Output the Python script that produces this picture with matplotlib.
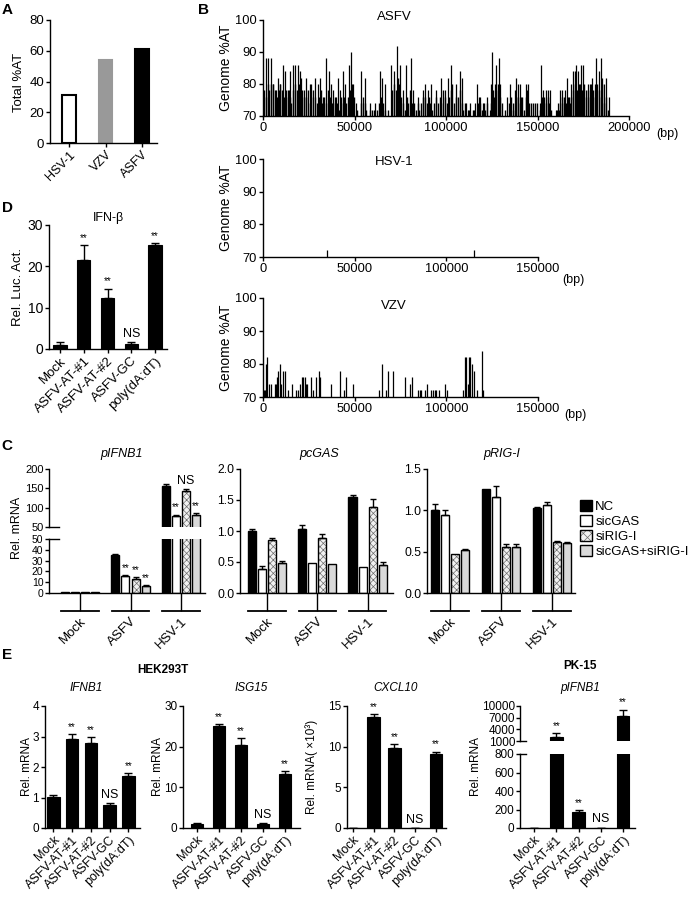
import matplotlib
matplotlib.use('Agg')
import matplotlib.pyplot as plt
import matplotlib.transforms as mtransforms
from matplotlib.patches import Patch
import numpy as np

plt.rcParams['font.family'] = ['Liberation Sans', 'DejaVu Sans']
plt.rcParams['axes.linewidth'] = 1.0
plt.rcParams['hatch.linewidth'] = 0.5

# ---------------- data ----------------
# A
a_viruses = ['HSV-1', 'VZV', 'ASFV']
a_total_at = [31.4, 54.0, 61.4]

# B  (window position in kb, %AT); windows under 70 %AT are not drawn
asfv_peaks = [
    (1.5, 88), (2.7, 88), (4.6, 88), (5.5, 80), (7.3, 78), (8.2, 82), (9.5, 80), (10.9, 86),
    (11.8, 84), (12.8, 78), (14.2, 78), (14.9, 84), (16.4, 86), (17.7, 86), (19.1, 86), (20.0, 84),
    (20.9, 82), (22.2, 78), (23.7, 82), (25.5, 80), (26.4, 80), (28.2, 82), (30.0, 80), (31.3, 82),
    (32.8, 76), (34.6, 88), (35.9, 84), (37.0, 80), (38.3, 78), (39.7, 76), (41.0, 82), (42.3, 78),
    (43.7, 84), (45.0, 80), (46.8, 86), (47.9, 90), (49.2, 80), (50.6, 74), (53.7, 84), (55.6, 82),
    (58.3, 74), (59.7, 72), (61.0, 74), (63.8, 84), (65.2, 82), (66.5, 80), (70.1, 86), (71.4, 84),
    (73.4, 92), (74.7, 86), (76.5, 78), (78.3, 86), (80.7, 88), (82.0, 78), (84.7, 76), (87.4, 78),
    (88.3, 80), (90.2, 78), (92.0, 80), (94.7, 78), (97.4, 82), (99.3, 78), (101.0, 82), (102.9, 86),
    (105.6, 80), (107.5, 84), (108.7, 82), (111.0, 74), (112.0, 72), (113.0, 74), (115.7, 74),
    (117.0, 80), (117.9, 76), (118.8, 76), (120.2, 74), (122.4, 76), (123.9, 72), (124.8, 80),
    (125.4, 90), (126.6, 80), (127.5, 86), (128.8, 88), (129.7, 80), (133.4, 76), (134.8, 80),
    (136.6, 74), (137.5, 78), (138.5, 82), (139.4, 80), (140.3, 80), (141.2, 76), (143.6, 80),
    (144.8, 80), (151.2, 74), (152.1, 86), (153.0, 78), (154.5, 78), (155.8, 78), (156.7, 78),
    (160.3, 72), (161.2, 74), (162.5, 78), (163.6, 78), (164.3, 76), (165.2, 78), (166.2, 82),
    (167.2, 76), (168.5, 80), (169.4, 84), (170.3, 84), (171.3, 86), (172.2, 84), (173.1, 80),
    (174.0, 86), (174.9, 86), (176.4, 78), (177.6, 80), (178.5, 80), (179.4, 80), (180.0, 82),
    (181.3, 80), (182.2, 88), (183.5, 84), (184.6, 88), (185.5, 82), (186.4, 80), (187.7, 82),
    (188.9, 76),
]
# low-level windows, one per kb starting at 0 kb (0 = below 70 %AT)
asfv_low = [
    78, 76, 80, 78, 80, 80, 78, 76, 78, 80,
    78, 76, 76, 78, 76, 74, 78, 80, 78, 80,
    76, 78, 76, 76, 78, 74, 76, 78, 76, 74,
    76, 78, 74, 76, 74, 78, 76, 74, 74, 76,
    74, 72, 76, 74, 76, 74, 76, 78, 80, 76,
    0, 72, 0, 74, 76, 74, 72, 0, 72, 0,
    72, 0, 72, 74, 76, 74, 72, 0, 72, 0,
    78, 80, 78, 82, 80, 76, 74, 72, 76, 74,
    78, 74, 74, 72, 74, 72, 74, 76, 76, 74,
    76, 74, 72, 74, 76, 74, 76, 74, 78, 76,
    74, 76, 78, 80, 74, 76, 76, 78, 74, 72,
    74, 0, 72, 0, 72, 72, 0, 74, 74, 72,
    74, 72, 74, 0, 74, 78, 76, 78, 80, 76,
    74, 0, 72, 0, 74, 76, 72, 74, 76, 76,
    74, 76, 72, 76, 78, 74, 74, 74, 74, 74,
    0, 72, 76, 76, 74, 76, 74, 72, 0, 0,
    72, 72, 74, 76, 74, 74, 76, 74, 76, 78,
    80, 78, 80, 76, 78, 80, 76, 78, 76, 76,
    78, 76, 80, 78, 76, 80, 74, 76, 72, 0,
]
hsv_peaks = [(35.1, 72), (114.9, 72)]
vzv_peaks = [
    (0.4, 72), (1.3, 72), (1.8, 80), (2.4, 82), (3.1, 74), (4.5, 74), (6.4, 74), (7.0, 74),
    (7.6, 76), (8.2, 78), (9.1, 80), (10.0, 74), (10.9, 78), (11.8, 78), (13.6, 72), (16.0, 74),
    (18.2, 72), (19.1, 72), (20.0, 74), (21.0, 76), (21.8, 76), (22.7, 76), (23.3, 74), (24.0, 74),
    (26.0, 76), (27.3, 72), (28.7, 76), (30.4, 78), (31.3, 76), (37.3, 74), (42.2, 78), (44.2, 72),
    (45.1, 76), (49.1, 74), (63.1, 72), (65.1, 80), (67.3, 72), (68.2, 78), (70.9, 78), (77.6, 76),
    (80.0, 74), (81.3, 76), (84.5, 72), (85.5, 72), (86.4, 72), (88.5, 72), (89.6, 74), (91.8, 72),
    (92.7, 72), (93.6, 72), (94.5, 72), (96.0, 72), (99.1, 74), (100.5, 72), (109.0, 72),
    (110.0, 82), (110.9, 82), (111.8, 74), (112.4, 82), (113.1, 82), (114.2, 80), (115.1, 78),
    (116.9, 72), (119.5, 84), (120.0, 72),
]

# D
samples = ['Mock', 'ASFV-AT-#1', 'ASFV-AT-#2', 'ASFV-GC', 'poly(dA:dT)']
d_luc = [1.05, 21.6, 12.3, 1.3, 25.2]
d_err = [0.55, 3.6, 2.3, 0.4, 0.4]
d_marks = ['', '**', '**', 'NS', '**']

# C  (rows: infection group, columns: siRNA)
c_groups = ['Mock', 'ASFV', 'HSV-1']
c_sirna = ['NC', 'sicGAS', 'siRIG-I', 'sicGAS+siRIG-I']
c_ifnb1 = [[0.8, 0.8, 0.8, 0.8], [35.5, 15.4, 13.0, 6.2], [157, 79, 142, 82]]
c_ifnb1_err = [[0, 0, 0, 0], [0.8, 1.5, 1.5, 1.5], [5, 3, 6, 3]]
c_ifnb1_marks = [['', '', '', ''], ['', '**', '**', '**'], ['', '**', 'NS', '**']]
c_cgas = [[1.0, 0.39, 0.86, 0.48], [1.04, 0.49, 0.88, 0.47], [1.55, 0.42, 1.39, 0.45]]
c_cgas_err = [[0.03, 0.05, 0.02, 0.03], [0.06, 0, 0.07, 0], [0.03, 0, 0.12, 0.05]]
c_rigi = [[1.0, 0.94, 0.47, 0.52], [1.26, 1.16, 0.56, 0.56], [1.03, 1.06, 0.62, 0.61]]
c_rigi_err = [[0.08, 0.07, 0, 0.01], [0, 0.14, 0.03, 0.03], [0.01, 0.04, 0.01, 0.01]]

# E
e_ifnb1 = [1.01, 2.91, 2.80, 0.76, 1.72]
e_ifnb1_err = [0.06, 0.16, 0.17, 0.05, 0.07]
e_isg15 = [1.06, 25.0, 20.3, 1.06, 13.4]
e_isg15_err = [0.1, 0.6, 1.9, 0.1, 0.6]
e_cxcl10 = [0.0, 13.6, 9.85, 0.05, 9.1]
e_cxcl10_err = [0, 0.4, 0.5, 0, 0.3]
e_pk15 = [2, 2030, 172, 5, 7500]
e_pk15_err = [0, 1000, 25, 0, 1600]
e_marks = ['', '**', '**', 'NS', '**']

# ---------------- layout helpers ----------------
W, H = 688, 899
fig = plt.figure(figsize=(W / 100, H / 100), dpi=100)
fig.patch.set_facecolor('white')


def px_ax(l, t, r, b, labelsize=9):
    ax = fig.add_axes([l / W, 1 - b / H, (r - l) / W, (b - t) / H])
    ax.spines['top'].set_visible(False)
    ax.spines['right'].set_visible(False)
    ax.tick_params(direction='out', length=3, width=1, pad=1.2, labelsize=labelsize)
    ax.patch.set_alpha(0)
    return ax


def ftext(x, y, s, **kw):
    kw.setdefault('ha', 'center')
    kw.setdefault('va', 'center')
    fig.text(x / W, 1 - y / H, s, **kw)


def rot_labels(ax, labels, size=8):
    ax.set_xticks(range(len(labels)))
    ax.set_xticklabels(labels, rotation=45, ha='right', rotation_mode='anchor', fontsize=size)


def mark(ax, x, y, m):
    if m:
        ax.annotate(m, (x, y), xytext=(0, 1.5), textcoords='offset points', ha='center',
                    va='bottom', fontsize=7 if m == '**' else 9)


def single_bars(ax, vals, errs, marks, width, keep=lambda v: True):
    x = np.arange(len(vals))
    ax.bar(x, vals, width=width, color='black', edgecolor='black', linewidth=0.8)
    for xi, v, e, m in zip(x, vals, errs, marks):
        if not keep(v):
            continue
        ax.errorbar(xi, v, yerr=[[0], [e]], fmt='none', ecolor='black', elinewidth=1,
                    capsize=3, capthick=1)
        mark(ax, xi, v + e, m)


def xlim_px(ax, left, right, first, step):
    ax.set_xlim((left - first) / step, (right - first) / step)


# ---------------- A ----------------
ax = px_ax(50, 20, 157, 143, 9.5)
xa = np.arange(len(a_viruses))
ax.bar(xa, a_total_at, width=0.38, color=['white', '#999999', 'black'],
       edgecolor=['black', '#999999', 'black'], linewidth=1.5)
ax.set_xlim(-0.52, 2.41)
ax.set_ylim(0, 80)
ax.set_yticks([0, 20, 40, 60, 80])
rot_labels(ax, a_viruses, 9)
ftext(19, 82, 'Total %AT', rotation=90, fontsize=9.5)
ftext(7, 10, 'A', fontsize=11, fontweight='bold')

# ---------------- B ----------------
genomes = [
    ('ASFV', asfv_peaks, 20, 116, 629, 200000, 17),
    ('HSV-1', hsv_peaks, 159, 257, 538, 150000, 162),
    ('VZV', vzv_peaks, 298, 397, 538, 150000, 306),
]
for name, peaks, top, bot, right, xmax, ty in genomes:
    ax = px_ax(263, top, right, bot, 9.3)
    if name == 'ASFV':
        lx = [(i + 0.5) * 1000 for i, v in enumerate(asfv_low) if v > 0]
        ly = [v for v in asfv_low if v > 0]
        ax.vlines(lx, 70, ly, color='black', linewidth=1.0)
    ax.vlines([p[0] * 1000 for p in peaks], 70, [p[1] for p in peaks], color='black', linewidth=0.9)
    ax.set_xlim(0, xmax)
    ax.set_ylim(70, 100)
    ax.set_yticks([70, 80, 90, 100])
    ax.set_xticks(np.arange(0, xmax + 1, 50000))
    ax.set_xticklabels([str(v) for v in np.arange(0, xmax + 1, 50000)])
    ftext(226, (top + bot) / 2, 'Genome %AT', rotation=90, fontsize=10)
    ftext(394, ty, name, fontsize=9.5)
ftext(667, 134, '(bp)', fontsize=9)
ftext(573, 280, '(bp)', fontsize=9)
ftext(575, 415, '(bp)', fontsize=9)
ftext(203, 10, 'B', fontsize=11, fontweight='bold')

# ---------------- D ----------------
ax = px_ax(49, 225, 167, 349, 10)
single_bars(ax, d_luc, d_err, d_marks, 0.56)
xlim_px(ax, 49, 167, 60, 23.75)
ax.set_ylim(0, 30)
ax.set_yticks([0, 10, 20, 30])
rot_labels(ax, samples, 9.5)
ftext(18, 287, 'Rel. Luc. Act.', rotation=90, fontsize=9.5)
ftext(108, 218, 'IFN-β', fontsize=9)
ftext(7, 208, 'D', fontsize=11, fontweight='bold')

# ---------------- C ----------------
fills = ['black', 'white', None, '#d9d9d9']


def group_bars(ax, data, errs, marks, keep=lambda v: True):
    ng = len(c_groups)
    for j in range(len(c_sirna)):
        xs = np.arange(ng) + (j - 1.5) * 0.2
        vals = [data[g][j] for g in range(ng)]
        if fills[j] is None:
            ax.bar(xs, vals, 0.16, color='#f2f2f2', edgecolor='#6e6e6e', hatch='xxxxx', linewidth=0)
            ax.bar(xs, vals, 0.16, fill=False, edgecolor='black', linewidth=1)
        else:
            ax.bar(xs, vals, 0.16, color=fills[j], edgecolor='black', linewidth=1)
        for g in range(ng):
            v, e = vals[g], errs[g][j]
            if not keep(v):
                continue
            if e > 0:
                ax.errorbar(xs[g], v, yerr=[[0], [e]], fmt='none', ecolor='black',
                            elinewidth=1, capsize=2.2, capthick=1)
            if marks:
                mark(ax, xs[g], v + e, marks[g][j])


def group_axis(ax):
    ax.set_xticks(range(len(c_groups)))
    ax.set_xticklabels(c_groups, rotation=45, ha='right', rotation_mode='anchor', fontsize=9.5)
    ax.tick_params(axis='x', length=13, pad=3)
    tr = mtransforms.offset_copy(ax.get_xaxis_transform(), fig=fig, y=-13, units='points')
    for g in range(len(c_groups)):
        ax.plot([g - 0.37, g + 0.37], [0, 0], transform=tr, color='black', lw=1.3, clip_on=False)


# pIFNB1 with broken axis
axt = px_ax(49, 469, 205, 527, 8)
axb = px_ax(49, 539, 205, 593, 7.5)
group_bars(axt, c_ifnb1, c_ifnb1_err, c_ifnb1_marks, keep=lambda v: v > 50)
group_bars(axb, c_ifnb1, c_ifnb1_err, c_ifnb1_marks, keep=lambda v: v <= 50)
for a in (axt, axb):
    xlim_px(a, 49, 205, 80, 50.5)
axt.set_ylim(50, 200)
axt.set_yticks([50, 100, 150, 200])
axt.tick_params(axis='y', pad=0.8)
axt.spines['bottom'].set_visible(False)
axt.set_xticks([])
axb.set_ylim(0, 50)
axb.set_yticks([0, 10, 20, 30, 40, 50])
axb.tick_params(axis='y', pad=1)
group_axis(axb)
axt.plot([0, 10 / 156], [0, 0], transform=axt.transAxes, color='black', lw=1, clip_on=False)
axb.plot([0, 10 / 156], [1, 1], transform=axb.transAxes, color='black', lw=1, clip_on=False)
ftext(17, 528, 'Rel. mRNA', rotation=90, fontsize=9)
ftext(122, 454, 'pIFNB1', fontsize=9, style='italic')

# pcGAS
ax = px_ax(240, 469, 393, 593, 8.7)
group_bars(ax, c_cgas, c_cgas_err, None)
xlim_px(ax, 240, 393, 267, 50.3)
ax.set_ylim(0, 2.0)
ax.set_yticks([0, 0.5, 1.0, 1.5, 2.0])
ax.set_yticklabels(['0.0', '0.5', '1.0', '1.5', '2.0'])
group_axis(ax)
ftext(319, 454, 'pcGAS', fontsize=9, style='italic')

# pRIG-I
ax = px_ax(427, 469, 575, 593, 8.7)
group_bars(ax, c_rigi, c_rigi_err, None)
xlim_px(ax, 427, 575, 450, 51)
ax.set_ylim(0, 1.5)
ax.set_yticks([0, 0.5, 1.0, 1.5])
ax.set_yticklabels(['0.0', '0.5', '1.0', '1.5'])
group_axis(ax)
ftext(502, 454, 'pRIG-I', fontsize=9, style='italic')

handles = [
    Patch(facecolor='black', edgecolor='black'),
    Patch(facecolor='white', edgecolor='black'),
    (Patch(facecolor='#f2f2f2', edgecolor='#6e6e6e', hatch='xxxx', linewidth=0),
     Patch(fill=False, edgecolor='black')),
    Patch(facecolor='#d9d9d9', edgecolor='black'),
]
fig.legend(handles, c_sirna, loc='upper left', bbox_to_anchor=(580 / W, 1 - 500 / H),
           frameon=False, fontsize=9.5, handlelength=0.9, handleheight=0.9,
           handletextpad=0.25, labelspacing=0.15, borderaxespad=0, borderpad=0)
ftext(7, 446, 'C', fontsize=11, fontweight='bold')

# ---------------- E ----------------
ftext(7, 655, 'E', fontsize=11, fontweight='bold')
ftext(163, 670, 'HEK293T', fontsize=8.5, fontweight='bold')
ftext(580, 666, 'PK-15', fontsize=8.5, fontweight='bold')

e_panels = [
    (e_ifnb1, e_ifnb1_err, 45, 140, 53.3, 18.75, 4, [0, 1, 2, 3, 4], 'IFNB1', 86, 'Rel. mRNA', 27),
    (e_isg15, e_isg15_err, 183, 300, 197, 22.0, 30, [0, 10, 20, 30], 'ISG15', 251, 'Rel. mRNA', 158),
    (e_cxcl10, e_cxcl10_err, 347, 446, 353, 20.7, 15, [0, 5, 10, 15], 'CXCL10', 396,
     'Rel. mRNA( ×10³)', 312),
]
for vals, errs, l, r, first, step, ymax, yt, title, tx, ylab, lx in e_panels:
    ax = px_ax(l, 706, r, 828, 8.5)
    single_bars(ax, vals, errs, e_marks, 12.5 / step)
    xlim_px(ax, l, r, first, step)
    ax.set_ylim(0, ymax)
    ax.set_yticks(yt)
    rot_labels(ax, samples, 9)
    ftext(tx, 688, title, fontsize=8.5, style='italic')
    ftext(lx, 767, ylab, rotation=90, fontsize=8.5)

# PK-15 pIFNB1 with broken axis
axt = px_ax(520, 706, 635, 741, 8.5)
axb = px_ax(520, 754, 635, 828, 8.5)
single_bars(axt, e_pk15, e_pk15_err, e_marks, 0.57, keep=lambda v: v > 1000)
single_bars(axb, e_pk15, e_pk15_err, e_marks, 0.57, keep=lambda v: v <= 1000)
for a in (axt, axb):
    xlim_px(a, 520, 635, 534, 22.25)
axt.set_ylim(1000, 10000)
axt.set_yticks([1000, 4000, 7000, 10000])
axt.tick_params(axis='y', pad=0.5)
axt.spines['bottom'].set_visible(False)
axt.set_xticks([])
axb.set_ylim(0, 800)
axb.set_yticks([0, 200, 400, 600, 800])
rot_labels(axb, samples, 9)
axt.plot([0, 6 / 115], [0, 0], transform=axt.transAxes, color='black', lw=1, clip_on=False)
axb.plot([0, 6 / 115], [1, 1], transform=axb.transAxes, color='black', lw=1, clip_on=False)
ftext(580, 688, 'pIFNB1', fontsize=8.5, style='italic')
ftext(476, 767, 'Rel. mRNA', rotation=90, fontsize=8.5)

fig.savefig('out.png', dpi=100)
